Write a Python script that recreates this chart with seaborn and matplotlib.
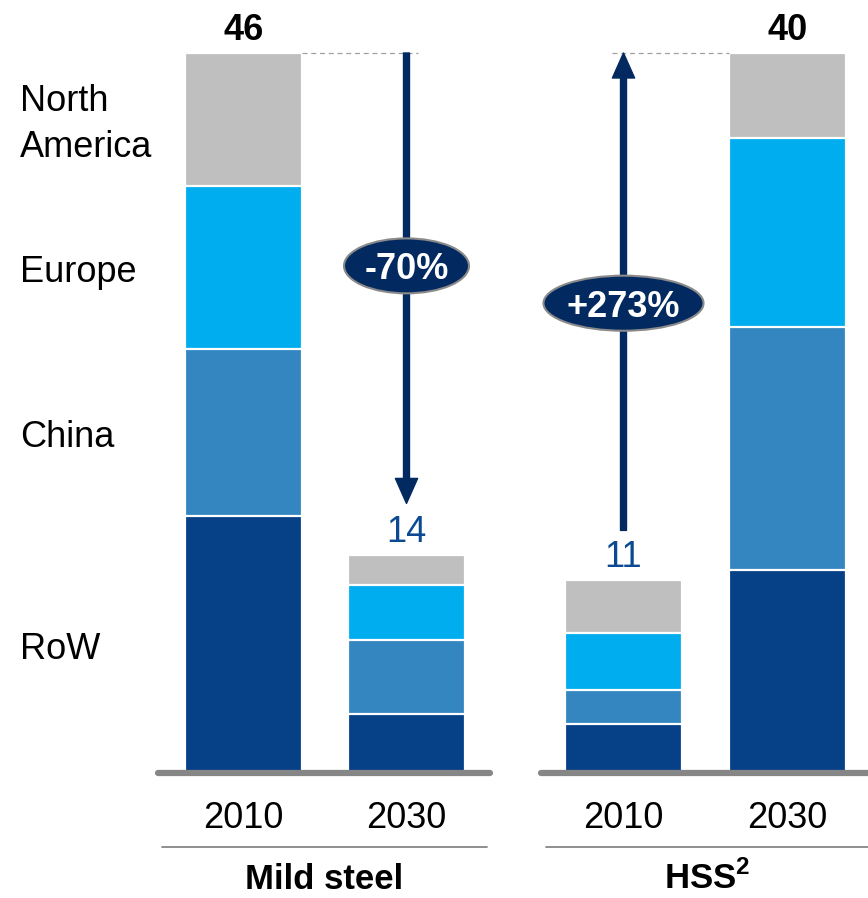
import numpy as np
import pandas as pd
import matplotlib
matplotlib.use("Agg")
import matplotlib.pyplot as plt
import matplotlib.transforms as mtransforms
from matplotlib.patches import Ellipse
from matplotlib.lines import Line2D
import seaborn as sns

# ---- data -------------------------------------------------------------
regions = ["RoW", "China", "Europe", "North America"]          # bottom -> top
region_labels = ["RoW", "China", "Europe", "North\nAmerica"]
years = ["2010", "2030"]
groups = ["Mild steel", "HSS"]
group_titles = ["Mild steel", r"HSS$^{\mathbf{2}}$"]

mild_steel_2010 = [16.4, 10.7, 10.4, 8.5]
mild_steel_2030 = [3.8, 4.7, 3.5, 1.9]
hss_2010 = [2.7, 1.9, 3.2, 2.9]
hss_2030 = [11.3, 13.5, 10.5, 4.7]
change_labels = ["-70%", "+273%"]

# ---- styling ----------------------------------------------------------
sns.set_style("white")
plt.rcParams["font.family"] = ["Liberation Sans", "DejaVu Sans"]
plt.rcParams["text.color"] = "black"
plt.rcParams["xtick.color"] = "black"
plt.rcParams["mathtext.fontset"] = "custom"
plt.rcParams["mathtext.rm"] = "Liberation Sans"
plt.rcParams["mathtext.bf"] = "Liberation Sans:bold"

colors = {"RoW": "#064087", "China": "#3386BF",
          "Europe": "#00AEEF", "North America": "#BFBFBF"}
NAVY = "#032A60"
LABEL_BLUE = "#0B4A93"
GREY = "#868686"
FS = 26

records = []
for g, vals in [("Mild steel", (mild_steel_2010, mild_steel_2030)),
                ("HSS", (hss_2010, hss_2030))]:
    for y, v in zip(years, vals):
        cum = np.cumsum(v)
        for r, val, c in zip(regions, v, cum):
            records.append(dict(group=g, year=y, region=r, value=val, cum=c))
df = pd.DataFrame(records)
totals = df.groupby(["group", "year"])["value"].sum()

W, H = 868, 898
fig = plt.figure(figsize=(W / 100, H / 100), dpi=100)

# axes spans in pixels: (left, right, first bar centre, bar spacing)
base_px, top_px = 773, 53
spans = {"Mild steel": (158, 490, 243.5, 163.0), "HSS": (541, 868, 623.5, 164.0)}
bar_w_px = 117

axes = {}
for g in groups:
    x0, x1, c0, step = spans[g]
    ax = fig.add_axes([x0 / W, 1 - base_px / H, (x1 - x0) / W, base_px / H])
    axes[g] = ax
    sub = df[df.group == g]
    # stacked bars: draw cumulative heights from the top segment downward
    for r in regions[::-1]:
        sns.barplot(data=sub[sub.region == r], x="year", y="cum", order=years,
                    color=colors[r], saturation=1, width=bar_w_px / step,
                    edgecolor="white", linewidth=1.6, errorbar=None, ax=ax,
                    zorder=2)
    ymax = sub.groupby("year")["value"].sum().max()
    ax.set_ylim(0, ymax * base_px / (base_px - top_px))
    ax.set_xlim(-(c0 - x0) / step, (x1 - c0) / step)
    for s in ax.spines.values():
        s.set_visible(False)
    ax.set_yticks([])
    ax.set_ylabel("")
    ax.set_xlabel("")
    ax.set_xticks([0, 1])
    ax.set_xticklabels(years, fontsize=FS, color="black")
    ax.tick_params(axis="x", length=0, pad=20)
    # baseline
    ax.plot([0, 1.05 if g == "HSS" else 1], [0, 0], transform=ax.transAxes,
            color=GREY, lw=4.5, solid_capstyle="round", clip_on=False, zorder=6)

ax1, ax2 = axes["Mild steel"], axes["HSS"]
m10, m30 = totals[("Mild steel", "2010")], totals[("Mild steel", "2030")]
h10, h30 = totals[("HSS", "2010")], totals[("HSS", "2030")]

# total labels
def total_label(ax, x, val, bold, color):
    ax.annotate(f"{round(val):.0f}", xy=(x, val), xytext=(0, 9.5),
                textcoords="offset points", ha="center", va="baseline",
                fontsize=FS, fontweight="bold" if bold else "normal",
                color=color, annotation_clip=False)

total_label(ax1, 0, m10, True, "black")
total_label(ax1, 1, m30, False, LABEL_BLUE)
total_label(ax2, 0, h10, False, LABEL_BLUE)
total_label(ax2, 1, h30, True, "black")

# dashed reference lines at the tallest bar tops
half = bar_w_px / 2
ax1.plot([half / 163.0, 1.07], [m10, m10], ls=(0, (4, 3)), lw=0.9,
         color="#A0A0A0", zorder=3)
ax2.plot([-0.07, 1 - half / 164.0], [h30, h30], ls=(0, (4, 3)), lw=0.9,
         color="#A0A0A0", zorder=3)

arrow_kw = dict(width=4.3, headwidth=16, headlength=18,
                facecolor=NAVY, edgecolor=NAVY, shrink=0)
# Mild steel: decline arrow
ax1.annotate("", xy=(1, m30),
             xycoords=mtransforms.offset_copy(ax1.transData, fig=fig, y=52, units="dots"),
             xytext=(1, m10), textcoords="data", arrowprops=arrow_kw,
             annotation_clip=False, zorder=4)
# HSS: growth arrow
ax2.annotate("", xy=(0, h30), xycoords="data",
             xytext=(0, h10),
             textcoords=mtransforms.offset_copy(ax2.transData, fig=fig, y=50, units="dots"),
             arrowprops=arrow_kw, annotation_clip=False, zorder=4)

# change badges
for ax, x, yc, w, h, txt in [(ax1, 1, 32.4, 0.767, 3.51, change_labels[0]),
                             (ax2, 0, 26.1, 0.976, 3.06, change_labels[1])]:
    ax.add_patch(Ellipse((x, yc), w, h, facecolor=NAVY, edgecolor="#8A8A8A",
                         lw=1.5, zorder=7, clip_on=False))
    ax.text(x, yc, txt, ha="center", va="center_baseline", color="white",
            fontsize=FS, fontweight="bold", zorder=8)

# region labels next to the first bar (nudged down a few pixels)
blend = mtransforms.blended_transform_factory(fig.transFigure, ax1.transData)
blend = blend + mtransforms.ScaledTranslation(0, -5 / 100, fig.dpi_scale_trans)
first = df[(df.group == "Mild steel") & (df.year == "2010")]
for lab, cum, val in zip(region_labels, first.cum, first.value):
    ax1.text(20 / W, cum - val / 2, lab, transform=blend, ha="left",
             va="center", fontsize=FS, linespacing=1.4, color="black")

# separators and group titles
y_sep = 1 - 847 / H
fig.add_artist(Line2D([162 / W, 487 / W], [y_sep, y_sep], color=GREY, lw=1.3))
fig.add_artist(Line2D([546 / W, 1.0], [y_sep, y_sep], color=GREY, lw=1.3))
for title, xc in zip(group_titles, [324, 707]):
    fig.text(xc / W, 1 - 889 / H, title, ha="center", va="baseline",
             fontsize=25, fontweight="bold", color="black")

fig.savefig("out.png", dpi=100)
